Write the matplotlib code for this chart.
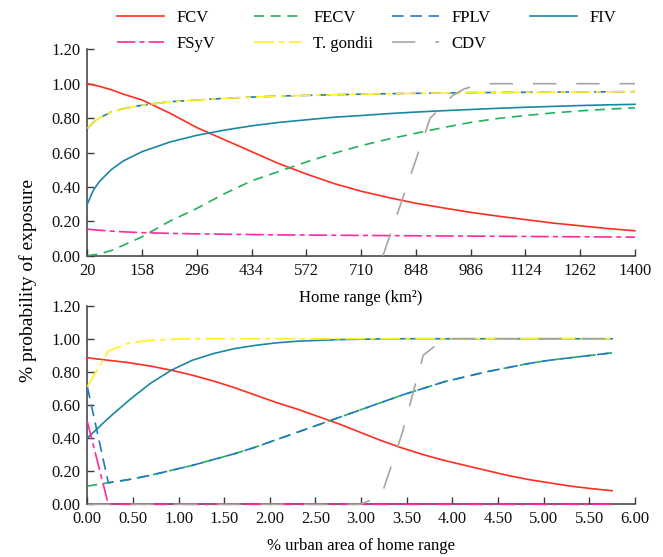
import matplotlib

matplotlib.use("Agg")
import matplotlib.pyplot as plt

plt.rcParams.update({
    "font.family": "Liberation Serif", "font.size": 12,
    "axes.edgecolor": "#3a3a3a", "axes.linewidth": 1.1,
    "xtick.direction": "in", "ytick.direction": "in",
    "xtick.major.size": 5, "ytick.major.size": 5,
    "xtick.major.width": 1.0, "ytick.major.width": 1.0,
    "xtick.color": "#3a3a3a", "ytick.color": "#3a3a3a",
    "xtick.labelcolor": "#111111", "ytick.labelcolor": "#111111",
})

# ---- top panel: home range (km2) ----
HR_X = [20, 35, 50, 80, 110, 158, 227, 296, 365, 434, 503, 572, 641, 710, 779,
        848, 917, 986, 1055, 1124, 1193, 1262, 1331, 1400]
HR_FCV = [1.00, 0.993, 0.985, 0.965, 0.94, 0.905, 0.83, 0.745, 0.675, 0.605, 0.535, 0.475,
          0.42, 0.375, 0.338, 0.305, 0.278, 0.252, 0.23, 0.21, 0.19, 0.174, 0.158, 0.145]
HR_FECV = [0.0, 0.005, 0.01, 0.03, 0.06, 0.11, 0.20, 0.275, 0.36, 0.435, 0.49, 0.545,
           0.595, 0.64, 0.678, 0.712, 0.745, 0.775, 0.798, 0.815, 0.83, 0.842, 0.852, 0.86]
HR_FPLV = [0.74, 0.775, 0.80, 0.835, 0.855, 0.875, 0.895, 0.905, 0.915, 0.922, 0.928, 0.932,
           0.936, 0.939, 0.942, 0.944, 0.946, 0.948, 0.949, 0.95, 0.951, 0.952, 0.953, 0.954]
HR_FIV = [0.30, 0.38, 0.43, 0.50, 0.55, 0.605, 0.66, 0.70, 0.73, 0.755, 0.775, 0.79,
          0.805, 0.815, 0.826, 0.835, 0.843, 0.85, 0.857, 0.863, 0.868, 0.873, 0.877, 0.88]
HR_FSYV = [0.155, 0.151, 0.148, 0.143, 0.139, 0.134, 0.13, 0.127, 0.125, 0.123, 0.121, 0.12,
           0.119, 0.118, 0.117, 0.116, 0.115, 0.114, 0.113, 0.112, 0.111, 0.11, 0.109, 0.108]
HR_TGON = [0.74, 0.775, 0.80, 0.835, 0.855, 0.875, 0.895, 0.905, 0.915, 0.922, 0.928, 0.932,
           0.936, 0.939, 0.942, 0.944, 0.946, 0.948, 0.949, 0.95, 0.951, 0.952, 0.953, 0.954]
HR_CDV_X = [765, 884, 915, 940, 970, 1000, 1030, 1400]
HR_CDV = [0.0, 0.80, 0.87, 0.93, 0.97, 0.99, 1.0, 1.0]
HR_TICKS = [20, 158, 296, 434, 572, 710, 848, 986, 1124, 1262, 1400]

# ---- bottom panel: % urban area ----
UR_X = [0, 0.23, 0.46, 0.69, 0.92, 1.15, 1.38, 1.61, 1.84, 2.07, 2.30, 2.53, 2.76,
        2.99, 3.22, 3.45, 3.68, 3.91, 4.14, 4.37, 4.60, 4.83, 5.06, 5.29, 5.52, 5.75]
UR_FCV = [0.885, 0.87, 0.855, 0.835, 0.81, 0.78, 0.745, 0.705, 0.66, 0.615, 0.575, 0.53, 0.485,
          0.435, 0.385, 0.34, 0.30, 0.265, 0.235, 0.205, 0.175, 0.15, 0.13, 0.11, 0.095, 0.082]
UR_FECV = [0.11, 0.13, 0.15, 0.175, 0.205, 0.235, 0.27, 0.305, 0.345, 0.39, 0.435, 0.48, 0.525,
           0.57, 0.615, 0.66, 0.70, 0.74, 0.77, 0.80, 0.825, 0.85, 0.87, 0.885, 0.90, 0.915]
UR_FPLV = [0.71, 0.13, 0.15, 0.175, 0.205, 0.235, 0.27, 0.305, 0.345, 0.39, 0.435, 0.48, 0.525,
           0.57, 0.615, 0.66, 0.70, 0.74, 0.77, 0.80, 0.825, 0.85, 0.87, 0.885, 0.90, 0.915]
UR_FIV = [0.40, 0.52, 0.63, 0.73, 0.81, 0.87, 0.91, 0.94, 0.96, 0.975, 0.985, 0.99, 0.995,
          0.997, 0.999, 1.0, 1.0, 1.0, 1.0, 1.0, 1.0, 1.0, 1.0, 1.0, 1.0, 1.0]
UR_FSYV = [0.50, 0.0, 0.0, 0.0, 0.0, 0.0, 0.0, 0.0, 0.0, 0.0, 0.0, 0.0, 0.0,
           0.0, 0.0, 0.0, 0.0, 0.0, 0.0, 0.0, 0.0, 0.0, 0.0, 0.0, 0.0, 0.0]
UR_TGON = [0.71, 0.925, 0.975, 0.99, 0.997, 1.0, 1.0, 1.0, 1.0, 1.0, 1.0, 1.0, 1.0,
           1.0, 1.0, 1.0, 1.0, 1.0, 1.0, 1.0, 1.0, 1.0, 1.0, 1.0, 1.0, 1.0]
UR_CDV = [0.0, 0.0, 0.0, 0.0, 0.0, 0.0, 0.0, 0.0, 0.0, 0.0, 0.0, 0.0, 0.0,
          0.0, 0.05, 0.43, 0.90, 1.0, 1.0, 1.0, 1.0, 1.0, 1.0, 1.0, 1.0, 1.0]
UR_TICKS = [0, 0.5, 1.0, 1.5, 2.0, 2.5, 3.0, 3.5, 4.0, 4.5, 5.0, 5.5, 6.0]

Y_TICKS = [0, 0.2, 0.4, 0.6, 0.8, 1.0, 1.2]

LABELS = ["FCV", "FECV", "FPLV", "FIV", "FSyV", "T. gondii", "CDV"]
STYLES = {
    "FCV": dict(color="#ff2e1f", dashes=()),
    "FECV": dict(color="#22b05e", dashes=(6, 4)),
    "FPLV": dict(color="#1f78c8", dashes=(7, 4)),
    "FIV": dict(color="#1a87a3", dashes=()),
    "FSyV": dict(color="#ff2a9d", dashes=(11, 2.5, 3, 2.5)),
    "T. gondii": dict(color="#fff01e", dashes=(12, 3, 3, 3)),
    "CDV": dict(color="#aaa49f", dashes=(14, 12)),
}

fig = plt.figure(figsize=(6.63, 5.57), dpi=100)
ax1 = fig.add_axes([0.1317, 0.5409, 0.826, 0.3706])
ax2 = fig.add_axes([0.1317, 0.0946, 0.826, 0.3567])


def draw(ax, series):
    lines = {}
    for name in LABELS:
        xs, ys = series[name]
        st = STYLES[name]
        ln, = ax.plot(xs, ys, color=st["color"], linewidth=1.2, clip_on=False, zorder=3)
        if st["dashes"]:
            ln.set_dashes(st["dashes"])
        lines[name] = ln
    return lines


top = draw(ax1, {
    "FCV": (HR_X, HR_FCV), "FECV": (HR_X, HR_FECV), "FPLV": (HR_X, HR_FPLV),
    "FIV": (HR_X, HR_FIV), "FSyV": (HR_X, HR_FSYV), "T. gondii": (HR_X, HR_TGON),
    "CDV": (HR_CDV_X, HR_CDV),
})
draw(ax2, {
    "FCV": (UR_X, UR_FCV), "FECV": (UR_X, UR_FECV), "FPLV": (UR_X, UR_FPLV),
    "FIV": (UR_X, UR_FIV), "FSyV": (UR_X, UR_FSYV), "T. gondii": (UR_X, UR_TGON),
    "CDV": (UR_X, UR_CDV),
})

for ax, xt, xl in [(ax1, HR_TICKS, "Home range (km²)"),
                   (ax2, UR_TICKS, "% urban area of home range")]:
    ax.set_facecolor("none")
    ax.set_xlim(xt[0], xt[-1])
    ax.set_ylim(0, 1.2)
    ax.set_xticks(xt)
    ax.set_yticks(Y_TICKS)
    ax.set_yticklabels([f"{v:.2f}" for v in Y_TICKS])
    if ax is ax2:
        ax.set_xticklabels([f"{v:.2f}" for v in xt])
    ax.tick_params(axis="x", pad=5)
    ax.tick_params(axis="y", pad=5)
    ax.set_xlabel(xl, fontsize=12, labelpad=8)
    for s in ("top", "right"):
        ax.spines[s].set_visible(False)

fig.text(0.042, 0.497, "% probability of exposure", rotation=90, ha="center", va="center",
         fontsize=14)

# legend: four evenly spaced columns, two rows
cols = [["FCV", "FSyV"], ["FECV", "T. gondii"], ["FPLV", "CDV"], ["FIV"]]
col_x = [117, 254, 392, 530]
for names, x in zip(cols, col_x):
    fig.legend([top[n] for n in names], names, loc="upper left",
               bbox_to_anchor=(x / 663, 1 - 10 / 557), frameon=False, fontsize=12,
               handlelength=2.8, handletextpad=0.75, labelspacing=0.62,
               borderpad=0, borderaxespad=0)

fig.savefig("out.png", dpi=100)
